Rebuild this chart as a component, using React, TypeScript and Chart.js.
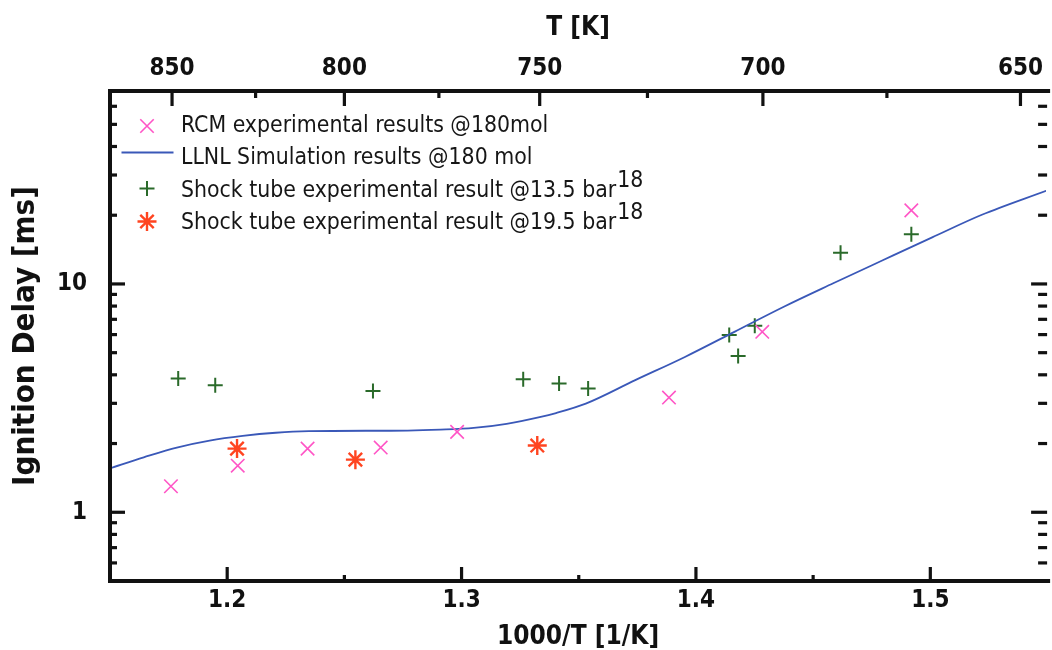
import React, { useEffect, useRef } from 'react';
import { Chart, registerables } from 'chart.js';

Chart.register(...registerables);

// ---- data ----
const rcmX = [1.176, 1.2045, 1.2343, 1.2655, 1.2981, 1.3885, 1.4283, 1.4919];
const rcmY = [1.30, 1.60, 1.90, 1.92, 2.25, 3.18, 6.17, 21.0];

const simX = [1.15, 1.1644, 1.1785, 1.1925, 1.2066, 1.2207, 1.2348, 1.277, 1.291, 1.3052, 1.3192, 1.3333, 1.3403, 1.353, 1.3741, 1.3953, 1.4164, 1.4375, 1.4586, 1.4797, 1.5008, 1.522, 1.5494];
const simY = [1.56, 1.74, 1.92, 2.06, 2.16, 2.23, 2.265, 2.28, 2.30, 2.34, 2.44, 2.61, 2.72, 2.99, 3.79, 4.79, 6.17, 7.95, 10.07, 12.7, 16.0, 20.1, 25.6];

const st13X = [1.1791, 1.1949, 1.2622, 1.3263, 1.3416, 1.354, 1.4142, 1.418, 1.4251, 1.4617, 1.4919];
const st13Y = [3.85, 3.60, 3.40, 3.82, 3.66, 3.48, 5.97, 4.84, 6.56, 13.7, 16.5];

const st19X = [1.2042, 1.2547, 1.3323];
const st19Y = [1.90, 1.70, 1.96];

const legendLabels = [
  'RCM experimental results @180mol',
  'LLNL Simulation results @180 mol',
  'Shock tube experimental result @13.5 bar',
  'Shock tube experimental result @19.5 bar',
];
const legendSup = ['', '', '18', '18'];

const xMajor = [1.2, 1.3, 1.4, 1.5];
const xMinor = [1.25, 1.35, 1.45];
const tMajor = [850, 800, 750, 700, 650];
const tMinor = [825, 775, 725, 675];
const yMajor = [1, 10];
const yMinor = [0.6, 0.7, 0.8, 0.9, 2, 3, 4, 5, 6, 7, 8, 9, 20, 30, 40, 50, 60];

const X_MIN = 1.15;
const X_MAX = 1.5494;
const Y_MIN = 0.5;
const Y_MAX = 70;

const COL_RCM = '#ff55c6';
const COL_SIM = '#3a58b8';
const COL_13 = '#2a6a2a';
const COL_19 = '#ff4420';

function hasCondensed(): boolean {
  try {
    const c = document.createElement('canvas').getContext('2d');
    if (!c) return false;
    const s = 'abcdefghijklmnopqrstuvwxyz0123456789';
    c.font = "24px monospace";
    const a = c.measureText(s).width;
    c.font = "24px 'DejaVu Sans Condensed', monospace";
    const b = c.measureText(s).width;
    return Math.abs(a - b) > 1;
  } catch (e) {
    return false;
  }
}

const pts = (xs: number[], ys: number[]) => xs.map((x, i) => ({ x, y: ys[i] }));

function drawMarker(ctx: CanvasRenderingContext2D, style: string, x: number, y: number, r: number) {
  ctx.beginPath();
  if (style === 'cross' || style === 'star') {
    ctx.moveTo(x - r, y); ctx.lineTo(x + r, y);
    ctx.moveTo(x, y - r); ctx.lineTo(x, y + r);
  }
  if (style === 'crossRot' || style === 'star') {
    const d = r * Math.SQRT1_2;
    ctx.moveTo(x - d, y - d); ctx.lineTo(x + d, y + d);
    ctx.moveTo(x + d, y - d); ctx.lineTo(x - d, y + d);
  }
  if (style === 'line') {
    ctx.moveTo(x - 26, y); ctx.lineTo(x + 26, y);
  }
  ctx.stroke();
}

export default function App() {
  const ref = useRef<HTMLCanvasElement | null>(null);
  useEffect(() => {
    if (!ref.current) return;
    const cond = hasCondensed();
    const FAMILY = cond ? "'DejaVu Sans Condensed', 'DejaVu Sans', sans-serif" : "'DejaVu Sans', sans-serif";
    const SZ = cond
      ? { tick: 24, title: 26, ytitle: 31, legend: 22.8, tPad: 7.6, bPad: 5.6, yPad: 23 }
      : { tick: 21.5, title: 24, ytitle: 28, legend: 21, tPad: 9, bPad: 7, yPad: 24 };
    Chart.defaults.font.family = FAMILY;

    const framePlugin = {
      id: 'framePlugin',
      afterDraw(chart: any) {
        const { ctx, chartArea } = chart;
        const { left, right, top, bottom } = chartArea;
        const xs = chart.scales.x;
        const ys = chart.scales.y;
        ctx.save();
        ctx.strokeStyle = '#111';
        ctx.lineCap = 'butt';
        ctx.lineWidth = 4;
        ctx.beginPath();
        ctx.moveTo(right + 4, top);
        ctx.lineTo(left, top);
        ctx.lineTo(left, bottom);
        ctx.lineTo(right + 4, bottom);
        ctx.stroke();
        ctx.lineWidth = 3.2;
        const vt = (px: number, y0: number, len: number) => {
          ctx.beginPath(); ctx.moveTo(px, y0); ctx.lineTo(px, y0 + len); ctx.stroke();
        };
        const ht = (py: number, x0: number, len: number) => {
          ctx.beginPath(); ctx.moveTo(x0, py); ctx.lineTo(x0 + len, py); ctx.stroke();
        };
        xMajor.forEach(v => vt(xs.getPixelForValue(v), bottom, -14));
        xMinor.forEach(v => vt(xs.getPixelForValue(v), bottom, -6));
        tMajor.forEach(t => vt(xs.getPixelForValue(1000 / t), top, 15));
        tMinor.forEach(t => vt(xs.getPixelForValue(1000 / t), top, 7));
        yMajor.forEach(v => { const p = ys.getPixelForValue(v); ht(p, left, 15); ht(p, right + 1, -16); });
        yMinor.forEach(v => { const p = ys.getPixelForValue(v); ht(p, left, 7); ht(p, right + 1, -9); });
        ctx.restore();

        // legend
        ctx.save();
        const mx = left + 37;
        const tx = left + 71;
        const baselines = [top + 40.5, top + 73, top + 105.5, top + 138];
        const markerY = [top + 35, top + 61.5, top + 97.5, top + 130.5];
        const styles = [
          { s: 'crossRot', c: COL_RCM, w: 1.6, r: 9.5 },
          { s: 'line', c: COL_SIM, w: 1.8, r: 0 },
          { s: 'cross', c: COL_13, w: 2, r: 7.5 },
          { s: 'star', c: COL_19, w: 2.4, r: 9.5 },
        ];
        styles.forEach((st, i) => {
          ctx.strokeStyle = st.c;
          ctx.lineWidth = st.w;
          drawMarker(ctx, st.s, st.s === 'line' ? left + 37.5 : mx, markerY[i], st.r);
        });
        ctx.fillStyle = '#161616';
        ctx.font = `${SZ.legend}px ${FAMILY}`;
        ctx.textBaseline = 'alphabetic';
        ctx.textAlign = 'left';
        legendLabels.forEach((lab, i) => {
          ctx.fillText(lab, tx, baselines[i]);
          if (legendSup[i]) {
            const w = ctx.measureText(lab).width;
            ctx.fillText(legendSup[i], tx + w + 1, baselines[i] - 10);
          }
        });
        ctx.restore();
      },
    };

    const chart = new Chart(ref.current, {
      type: 'scatter',
      data: {
        datasets: [
          {
            label: legendLabels[0],
            data: pts(rcmX, rcmY),
            pointStyle: 'crossRot',
            pointRadius: 9.5,
            pointBorderWidth: 1.6,
            borderColor: COL_RCM,
            backgroundColor: COL_RCM,
            showLine: false,
          },
          {
            label: legendLabels[1],
            data: pts(simX, simY),
            showLine: true,
            pointRadius: 0,
            borderColor: COL_SIM,
            borderWidth: 1.8,
            cubicInterpolationMode: 'monotone',
            fill: false,
          },
          {
            label: legendLabels[2],
            data: pts(st13X, st13Y),
            pointStyle: 'cross',
            pointRadius: 7.5,
            pointBorderWidth: 2,
            borderColor: COL_13,
            backgroundColor: COL_13,
            showLine: false,
          },
          {
            label: legendLabels[3],
            data: pts(st19X, st19Y),
            pointStyle: 'star',
            pointRadius: 9.5,
            pointBorderWidth: 2.4,
            borderColor: COL_19,
            backgroundColor: COL_19,
            showLine: false,
          },
        ],
      } as any,
      options: {
        animation: false,
        responsive: false,
        devicePixelRatio: 1,
        layout: { padding: { right: 3, left: 0, top: 0, bottom: 0 } },
        plugins: { legend: { display: false }, tooltip: { enabled: false } },
        scales: {
          x: {
            type: 'linear',
            position: 'bottom',
            min: X_MIN,
            max: X_MAX,
            afterBuildTicks: (s: any) => { s.ticks = xMajor.map(v => ({ value: v })); },
            afterFit: (s: any) => { s.height = 69; },
            ticks: {
              callback: (v: any) => Number(v).toFixed(1),
              font: { size: SZ.tick, weight: 'bold' },
              color: '#111',
              padding: SZ.bPad,
              maxRotation: 0,
              autoSkip: false,
            },
            grid: { display: false, drawTicks: false },
            border: { display: false },
            title: {
              display: true,
              text: '1000/T [1/K]',
              color: '#111',
              font: { size: SZ.title, weight: 'bold', lineHeight: 1 },
              padding: { top: 0, bottom: 0 },
            },
          },
          x2: {
            type: 'linear',
            position: 'top',
            min: X_MIN,
            max: X_MAX,
            afterBuildTicks: (s: any) => { s.ticks = tMajor.map(t => ({ value: 1000 / t })); },
            afterFit: (s: any) => { s.height = 91; },
            ticks: {
              callback: (_v: any, i: number) => String(tMajor[i]),
              font: { size: SZ.tick, weight: 'bold' },
              color: '#111',
              padding: SZ.tPad,
              maxRotation: 0,
              autoSkip: false,
            },
            grid: { display: false, drawTicks: false },
            border: { display: false },
            title: {
              display: true,
              text: 'T [K]',
              color: '#111',
              font: { size: SZ.title, weight: 'bold', lineHeight: 1 },
              padding: { top: 15, bottom: 0 },
            },
          },
          y: {
            type: 'logarithmic',
            position: 'left',
            min: Y_MIN,
            max: Y_MAX,
            afterBuildTicks: (s: any) => { s.ticks = yMajor.map(v => ({ value: v })); },
            afterFit: (s: any) => { s.width = 110; },
            ticks: {
              callback: (v: any) => String(v),
              font: { size: SZ.tick, weight: 'bold' },
              color: '#111',
              padding: SZ.yPad,
              autoSkip: false,
            },
            grid: { display: false, drawTicks: false },
            border: { display: false },
            title: {
              display: true,
              text: 'Ignition Delay [ms]',
              color: '#111',
              font: { size: SZ.ytitle, weight: 'bold', lineHeight: 1 },
              padding: { top: 10, bottom: 0 },
            },
          },
        },
      } as any,
      plugins: [framePlugin],
    });
    return () => chart.destroy();
  }, []);

  return (
    <div style={{ position: 'fixed', left: 0, top: 0, width: 1052, height: 650, overflow: 'hidden', background: '#fff' }}>
      <canvas ref={ref} width={1058} height={650} style={{ display: 'block' }} />
    </div>
  );
}
